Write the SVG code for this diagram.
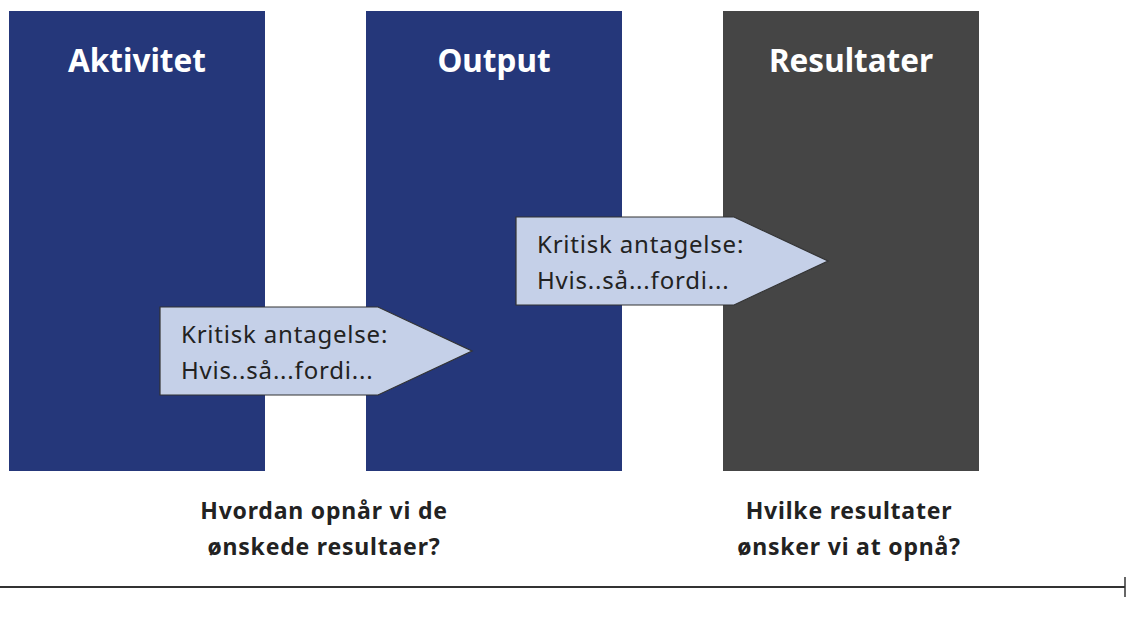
<svg xmlns="http://www.w3.org/2000/svg" width="1127" height="642" viewBox="0 0 1127 642">
<style>
.title{font-family:"Noto Sans","Liberation Sans",sans-serif;font-weight:bold;font-size:31.5px;fill:#ffffff;text-anchor:middle}
.lbl{font-family:"Noto Sans","Liberation Sans",sans-serif;font-size:24px;letter-spacing:0.8px;fill:#222222}
.q{font-family:"Noto Sans","Liberation Sans",sans-serif;font-weight:bold;font-size:23px;letter-spacing:0.8px;fill:#222222;text-anchor:middle}
.arrow{fill:#c5d0e8;stroke:#333333;stroke-width:1.2}
.navy{fill:#25377a}
.grey{fill:#454545}
</style>
<rect width="1127" height="642" fill="#ffffff"/>
<g id="aktivitet">
<rect class="navy" x="9" y="11" width="256" height="460"/>
<text class="title" x="137" y="72">Aktivitet</text>
</g>
<g id="output">
<rect class="navy" x="366" y="11" width="256" height="460"/>
<text class="title" x="494" y="72">Output</text>
</g>
<g id="resultater">
<rect class="grey" x="723" y="11" width="256" height="460"/>
<text class="title" x="851" y="72">Resultater</text>
</g>
<g id="antagelse1">
<polygon class="arrow" points="160,307 378,307 472,351 378,395 160,395"/>
<text class="lbl" x="181" y="343">Kritisk antagelse:</text>
<text class="lbl" x="181" y="379">Hvis..så...fordi...</text>
</g>
<g id="antagelse2">
<polygon class="arrow" points="516,217 734,217 828,261 734,305 516,305"/>
<text class="lbl" x="537" y="253">Kritisk antagelse:</text>
<text class="lbl" x="537" y="289">Hvis..så...fordi...</text>
</g>
<g id="spoergsmaal1">
<text class="q" x="324" y="519">Hvordan opnår vi de</text>
<text class="q" x="324" y="555">ønskede resultaer?</text>
</g>
<g id="spoergsmaal2">
<text class="q" x="849" y="519">Hvilke resultater</text>
<text class="q" x="849" y="555">ønsker vi at opnå?</text>
</g>
<g id="connectors">
<line x1="0" y1="587" x2="1125" y2="587" stroke="#333333" stroke-width="2"/>
<line x1="1125" y1="577" x2="1125" y2="597" stroke="#333333" stroke-width="1.5"/>
</g>
</svg>
